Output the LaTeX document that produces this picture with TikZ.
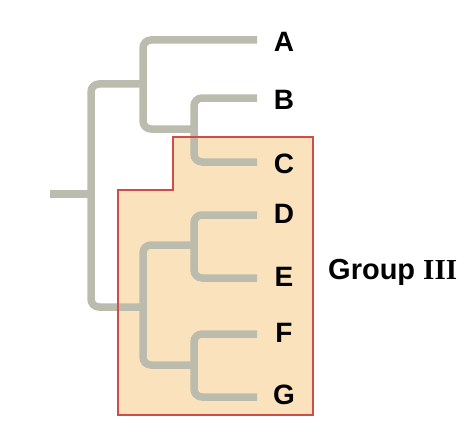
\documentclass[tikz,border=0pt]{standalone}
\usepackage{fontspec}
\setmainfont{Liberation Sans}
\newfontfamily\serifbold{Liberation Serif}
\definecolor{branchgray}{RGB}{188,188,174}
\definecolor{boxfill}{RGB}{250,227,188}
\definecolor{boxline}{RGB}{205,78,72}
\tikzset{
  branch/.style={draw=branchgray, line width=7.5pt, rounded corners=8pt},
  leaf/.style={font=\fontsize{28}{28}\selectfont\bfseries, inner sep=0pt, anchor=center},
}
\begin{document}
\begin{tikzpicture}[x=1pt,y=-1pt]
\useasboundingbox (0,0) rectangle (474,436);
% group box
\fill[boxfill] (173,137) -- (313,137) -- (313,415) -- (118,415) -- (118,190) -- (173,190) -- cycle;
% tip coordinates
\coordinate (tA) at (257,40);
\coordinate (tB) at (257,98);
\coordinate (tC) at (257,162);
\coordinate (tD) at (257,215);
\coordinate (tE) at (257,278);
\coordinate (tF) at (257,334);
\coordinate (tG) at (257,397);
% internal nodes
\coordinate (stem) at (50,194);
\coordinate (root) at (91,194);
\coordinate (rA) at (143,84);
\coordinate (rBC) at (194,129);
\coordinate (rDG) at (143,307);
\coordinate (rDE) at (194,245);
\coordinate (rFG) at (194,365);
% branches
\draw[branch] (stem) -- (root);
\draw[branch] (root) |- (rA);
\draw[branch] (root) |- (rDG);
\draw[branch] (rA) |- (tA);
\draw[branch] (rA) |- (rBC);
\draw[branch] (rBC) |- (tB);
\draw[branch] (rBC) |- (tC);
\draw[branch] (rDG) |- (rDE);
\draw[branch] (rDG) |- (rFG);
\draw[branch] (rDE) |- (tD);
\draw[branch] (rDE) |- (tE);
\draw[branch] (rFG) |- (tF);
\draw[branch] (rFG) |- (tG);
% box border
\draw[boxline, line width=1.6pt] (173,137) -- (313,137) -- (313,415) -- (118,415) -- (118,190) -- (173,190) -- cycle;
% labels
\node[leaf] (A) at (284,42) {A};
\node[leaf] (B) at (284,100) {B};
\node[leaf] (C) at (284,164) {C};
\node[leaf] (D) at (284,214) {D};
\node[leaf] (E) at (284,277) {E};
\node[leaf] (F) at (284,333) {F};
\node[leaf] (G) at (284,395) {G};
\node[font=\fontsize{29}{29}\selectfont\bfseries, inner sep=0pt, anchor=base west] (grp) at (328,279) {Group {\serifbold III}};
\end{tikzpicture}
\end{document}
